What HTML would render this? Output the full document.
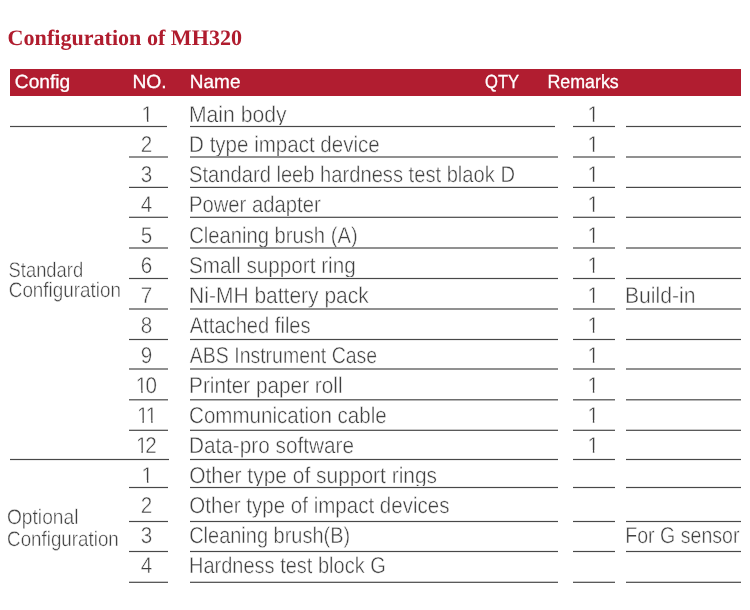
<!DOCTYPE html>
<html><head><meta charset="utf-8"><title>Configuration of MH320</title>
<style>
html,body{margin:0;padding:0;background:#fff;}
body{width:750px;height:610px;position:relative;overflow:hidden;font-family:"Liberation Sans",sans-serif;font-size:22.8px;}
.t{position:absolute;left:0;top:0;white-space:nowrap;line-height:normal;color:#404040;transform-origin:0 0;text-rendering:geometricPrecision;-webkit-text-stroke:0.45px #fff;}
.t.h{color:#fff;-webkit-text-stroke:0.3px #fff;}
i{position:absolute;display:block;height:1px;}
b{font-weight:normal;display:inline-block;clip-path:polygon(0 0,100% 0,100% 0.79em,0.33em 0.79em,0.33em 100%,0.2615em 100%,0.2615em 0.79em,0 0.79em);}
h1{position:absolute;margin:0;left:0;top:0;transform:translate(7.6px,24.9px);text-rendering:geometricPrecision;font-family:"Liberation Serif",serif;font-weight:bold;font-size:22.1px;line-height:normal;color:#b01c2e;white-space:nowrap;}
.bar{position:absolute;left:10px;top:69px;width:731px;height:27px;background:#b11d30;}
</style></head><body>
<h1>Configuration of MH320</h1>
<div class="bar"></div>
<div class="t" style="transform:translate(188.92px,101.31px) scaleX(0.9276)">Main body</div>
<div class="t" style="transform:translate(141.56px,101.31px) scaleX(0.9050)"><b>1</b></div>
<div class="t" style="transform:translate(587.46px,101.31px) scaleX(0.9050)"><b>1</b></div>
<div class="t" style="transform:translate(189.10px,131.37px) scaleX(0.9009)">D type impact device</div>
<div class="t" style="transform:translate(140.66px,131.37px) scaleX(0.9050)">2</div>
<div class="t" style="transform:translate(587.46px,131.37px) scaleX(0.9050)"><b>1</b></div>
<div class="t" style="transform:translate(189.09px,161.43px) scaleX(0.8836)">Standard leeb hardness test blaok D</div>
<div class="t" style="transform:translate(140.66px,161.43px) scaleX(0.9050)">3</div>
<div class="t" style="transform:translate(587.46px,161.43px) scaleX(0.9050)"><b>1</b></div>
<div class="t" style="transform:translate(188.92px,191.49px) scaleX(0.8884)">Power adapter</div>
<div class="t" style="transform:translate(140.66px,191.49px) scaleX(0.9050)">4</div>
<div class="t" style="transform:translate(587.46px,191.49px) scaleX(0.9050)"><b>1</b></div>
<div class="t" style="transform:translate(189.13px,221.55px) scaleX(0.8865)">Cleaning brush (A)</div>
<div class="t" style="transform:translate(140.66px,221.55px) scaleX(0.9050)">5</div>
<div class="t" style="transform:translate(587.46px,221.55px) scaleX(0.9050)"><b>1</b></div>
<div class="t" style="transform:translate(189.01px,251.61px) scaleX(0.9070)">Small support ring</div>
<div class="t" style="transform:translate(140.66px,251.61px) scaleX(0.9050)">6</div>
<div class="t" style="transform:translate(587.46px,251.61px) scaleX(0.9050)"><b>1</b></div>
<div class="t" style="transform:translate(189.06px,281.67px) scaleX(0.9213)">Ni-MH battery pack</div>
<div class="t" style="transform:translate(140.66px,281.67px) scaleX(0.9050)">7</div>
<div class="t" style="transform:translate(587.46px,281.67px) scaleX(0.9050)"><b>1</b></div>
<div class="t" style="transform:translate(624.95px,281.67px) scaleX(0.9276)">Build-in</div>
<div class="t" style="transform:translate(189.78px,311.73px) scaleX(0.8830)">Attached files</div>
<div class="t" style="transform:translate(140.66px,311.73px) scaleX(0.9050)">8</div>
<div class="t" style="transform:translate(587.46px,311.73px) scaleX(0.9050)"><b>1</b></div>
<div class="t" style="transform:translate(189.83px,341.79px) scaleX(0.8544)">ABS Instrument Case</div>
<div class="t" style="transform:translate(140.66px,341.79px) scaleX(0.9050)">9</div>
<div class="t" style="transform:translate(587.46px,341.79px) scaleX(0.9050)"><b>1</b></div>
<div class="t" style="transform:translate(189.04px,371.85px) scaleX(0.9108)">Printer paper roll</div>
<div class="t" style="transform:translate(135.85px,371.85px) scaleX(0.9050)"><b style="margin-right:-0.09em">1</b>0</div>
<div class="t" style="transform:translate(587.46px,371.85px) scaleX(0.9050)"><b>1</b></div>
<div class="t" style="transform:translate(189.05px,401.91px) scaleX(0.9017)">Communication cable</div>
<div class="t" style="transform:translate(137.08px,401.91px) scaleX(0.9050)"><b style="margin-right:-0.135em">1</b><b>1</b></div>
<div class="t" style="transform:translate(587.46px,401.91px) scaleX(0.9050)"><b>1</b></div>
<div class="t" style="transform:translate(189.04px,431.97px) scaleX(0.9103)">Data-pro software</div>
<div class="t" style="transform:translate(136.06px,431.97px) scaleX(0.9050)"><b style="margin-right:-0.11em">1</b>2</div>
<div class="t" style="transform:translate(587.46px,431.97px) scaleX(0.9050)"><b>1</b></div>
<div class="t" style="transform:translate(189.19px,462.03px) scaleX(0.9184)">Other type of support rings</div>
<div class="t" style="transform:translate(141.56px,462.03px) scaleX(0.9050)"><b>1</b></div>
<div class="t" style="transform:translate(189.28px,492.09px) scaleX(0.9007)">Other type of impact devices</div>
<div class="t" style="transform:translate(140.66px,492.09px) scaleX(0.9050)">2</div>
<div class="t" style="transform:translate(189.18px,522.15px) scaleX(0.8758)">Cleaning brush(B)</div>
<div class="t" style="transform:translate(140.66px,522.15px) scaleX(0.9050)">3</div>
<div class="t" style="transform:translate(625.28px,522.15px) scaleX(0.8583)">For G sensor</div>
<div class="t" style="transform:translate(189.02px,552.21px) scaleX(0.8773)">Hardness test block G</div>
<div class="t" style="transform:translate(140.66px,552.21px) scaleX(0.9050)">4</div>
<div class="t" style="font-size:21.1px;transform:translate(8.58px,259.31px) scaleX(0.8708)">Standard</div>
<div class="t" style="font-size:21.1px;transform:translate(8.77px,279.11px) scaleX(0.8938)">Configuration</div>
<div class="t" style="font-size:21.1px;transform:translate(6.95px,506.31px) scaleX(0.9093)">Optional</div>
<div class="t" style="font-size:21.1px;transform:translate(7.12px,528.31px) scaleX(0.8898)">Configuration</div>
<div class="t h" style="font-size:19.0px;transform:translate(14.86px,71.69px) scaleX(1.0084)">Config</div>
<div class="t h" style="font-size:19.0px;transform:translate(132.44px,71.69px) scaleX(1.0124)">NO.</div>
<div class="t h" style="font-size:19.0px;transform:translate(189.86px,71.69px) scaleX(0.9986)">Name</div>
<div class="t h" style="font-size:19.0px;transform:translate(485.08px,71.69px) scaleX(0.8728)">QTY</div>
<div class="t h" style="font-size:19.0px;transform:translate(547.51px,71.69px) scaleX(0.9373)">Remarks</div>
<i style="left:10px;width:157px;top:125px;background:#ededed"></i>
<i style="left:10px;width:157px;top:126px;background:#484848"></i>
<i style="left:10px;width:157px;top:127px;background:#ededed"></i>
<i style="left:190px;width:365px;top:125px;background:#ededed"></i>
<i style="left:190px;width:365px;top:126px;background:#484848"></i>
<i style="left:190px;width:365px;top:127px;background:#ededed"></i>
<i style="left:573px;width:42px;top:125px;background:#ededed"></i>
<i style="left:573px;width:42px;top:126px;background:#484848"></i>
<i style="left:573px;width:42px;top:127px;background:#ededed"></i>
<i style="left:626px;width:115px;top:125px;background:#ededed"></i>
<i style="left:626px;width:115px;top:126px;background:#484848"></i>
<i style="left:626px;width:115px;top:127px;background:#ededed"></i>
<i style="left:129px;width:39px;top:156px;background:#919191"></i>
<i style="left:129px;width:39px;top:157px;background:#919191"></i>
<i style="left:190px;width:368px;top:156px;background:#919191"></i>
<i style="left:190px;width:368px;top:157px;background:#919191"></i>
<i style="left:573px;width:42px;top:156px;background:#919191"></i>
<i style="left:573px;width:42px;top:157px;background:#919191"></i>
<i style="left:626px;width:115px;top:156px;background:#919191"></i>
<i style="left:626px;width:115px;top:157px;background:#919191"></i>
<i style="left:129px;width:39px;top:186px;background:#dadada"></i>
<i style="left:129px;width:39px;top:187px;background:#484848"></i>
<i style="left:190px;width:368px;top:186px;background:#dadada"></i>
<i style="left:190px;width:368px;top:187px;background:#484848"></i>
<i style="left:573px;width:42px;top:186px;background:#dadada"></i>
<i style="left:573px;width:42px;top:187px;background:#484848"></i>
<i style="left:626px;width:115px;top:186px;background:#dadada"></i>
<i style="left:626px;width:115px;top:187px;background:#484848"></i>
<i style="left:129px;width:39px;top:216px;background:#c8c8c8"></i>
<i style="left:129px;width:39px;top:217px;background:#5a5a5a"></i>
<i style="left:190px;width:368px;top:216px;background:#c8c8c8"></i>
<i style="left:190px;width:368px;top:217px;background:#5a5a5a"></i>
<i style="left:573px;width:42px;top:216px;background:#c8c8c8"></i>
<i style="left:573px;width:42px;top:217px;background:#5a5a5a"></i>
<i style="left:626px;width:115px;top:216px;background:#c8c8c8"></i>
<i style="left:626px;width:115px;top:217px;background:#5a5a5a"></i>
<i style="left:129px;width:39px;top:247px;background:#919191"></i>
<i style="left:129px;width:39px;top:248px;background:#919191"></i>
<i style="left:190px;width:368px;top:247px;background:#919191"></i>
<i style="left:190px;width:368px;top:248px;background:#919191"></i>
<i style="left:573px;width:42px;top:247px;background:#919191"></i>
<i style="left:573px;width:42px;top:248px;background:#919191"></i>
<i style="left:626px;width:115px;top:247px;background:#919191"></i>
<i style="left:626px;width:115px;top:248px;background:#919191"></i>
<i style="left:129px;width:39px;top:277px;background:#ededed"></i>
<i style="left:129px;width:39px;top:278px;background:#484848"></i>
<i style="left:129px;width:39px;top:279px;background:#ededed"></i>
<i style="left:190px;width:368px;top:277px;background:#ededed"></i>
<i style="left:190px;width:368px;top:278px;background:#484848"></i>
<i style="left:190px;width:368px;top:279px;background:#ededed"></i>
<i style="left:573px;width:42px;top:277px;background:#ededed"></i>
<i style="left:573px;width:42px;top:278px;background:#484848"></i>
<i style="left:573px;width:42px;top:279px;background:#ededed"></i>
<i style="left:626px;width:115px;top:277px;background:#ededed"></i>
<i style="left:626px;width:115px;top:278px;background:#484848"></i>
<i style="left:626px;width:115px;top:279px;background:#ededed"></i>
<i style="left:129px;width:39px;top:308px;background:#919191"></i>
<i style="left:129px;width:39px;top:309px;background:#919191"></i>
<i style="left:190px;width:368px;top:308px;background:#919191"></i>
<i style="left:190px;width:368px;top:309px;background:#919191"></i>
<i style="left:573px;width:42px;top:308px;background:#919191"></i>
<i style="left:573px;width:42px;top:309px;background:#919191"></i>
<i style="left:626px;width:115px;top:308px;background:#919191"></i>
<i style="left:626px;width:115px;top:309px;background:#919191"></i>
<i style="left:129px;width:39px;top:338px;background:#ededed"></i>
<i style="left:129px;width:39px;top:339px;background:#484848"></i>
<i style="left:129px;width:39px;top:340px;background:#ededed"></i>
<i style="left:190px;width:368px;top:338px;background:#ededed"></i>
<i style="left:190px;width:368px;top:339px;background:#484848"></i>
<i style="left:190px;width:368px;top:340px;background:#ededed"></i>
<i style="left:573px;width:42px;top:338px;background:#ededed"></i>
<i style="left:573px;width:42px;top:339px;background:#484848"></i>
<i style="left:573px;width:42px;top:340px;background:#ededed"></i>
<i style="left:626px;width:115px;top:338px;background:#ededed"></i>
<i style="left:626px;width:115px;top:339px;background:#484848"></i>
<i style="left:626px;width:115px;top:340px;background:#ededed"></i>
<i style="left:129px;width:39px;top:368px;background:#919191"></i>
<i style="left:129px;width:39px;top:369px;background:#919191"></i>
<i style="left:190px;width:368px;top:368px;background:#919191"></i>
<i style="left:190px;width:368px;top:369px;background:#919191"></i>
<i style="left:573px;width:42px;top:368px;background:#919191"></i>
<i style="left:573px;width:42px;top:369px;background:#919191"></i>
<i style="left:626px;width:115px;top:368px;background:#919191"></i>
<i style="left:626px;width:115px;top:369px;background:#919191"></i>
<i style="left:129px;width:39px;top:399px;background:#6d6d6d"></i>
<i style="left:129px;width:39px;top:400px;background:#b6b6b6"></i>
<i style="left:190px;width:368px;top:399px;background:#6d6d6d"></i>
<i style="left:190px;width:368px;top:400px;background:#b6b6b6"></i>
<i style="left:573px;width:42px;top:399px;background:#6d6d6d"></i>
<i style="left:573px;width:42px;top:400px;background:#b6b6b6"></i>
<i style="left:626px;width:115px;top:399px;background:#6d6d6d"></i>
<i style="left:626px;width:115px;top:400px;background:#b6b6b6"></i>
<i style="left:129px;width:39px;top:429px;background:#c8c8c8"></i>
<i style="left:129px;width:39px;top:430px;background:#5a5a5a"></i>
<i style="left:190px;width:368px;top:429px;background:#c8c8c8"></i>
<i style="left:190px;width:368px;top:430px;background:#5a5a5a"></i>
<i style="left:573px;width:42px;top:429px;background:#c8c8c8"></i>
<i style="left:573px;width:42px;top:430px;background:#5a5a5a"></i>
<i style="left:626px;width:115px;top:429px;background:#c8c8c8"></i>
<i style="left:626px;width:115px;top:430px;background:#5a5a5a"></i>
<i style="left:10px;width:159px;top:458px;background:#ededed"></i>
<i style="left:10px;width:159px;top:459px;background:#484848"></i>
<i style="left:10px;width:159px;top:460px;background:#ededed"></i>
<i style="left:190px;width:368px;top:458px;background:#ededed"></i>
<i style="left:190px;width:368px;top:459px;background:#484848"></i>
<i style="left:190px;width:368px;top:460px;background:#ededed"></i>
<i style="left:573px;width:42px;top:458px;background:#ededed"></i>
<i style="left:573px;width:42px;top:459px;background:#484848"></i>
<i style="left:573px;width:42px;top:460px;background:#ededed"></i>
<i style="left:626px;width:115px;top:458px;background:#ededed"></i>
<i style="left:626px;width:115px;top:459px;background:#484848"></i>
<i style="left:626px;width:115px;top:460px;background:#ededed"></i>
<i style="left:129px;width:39px;top:486px;background:#ededed"></i>
<i style="left:129px;width:39px;top:487px;background:#484848"></i>
<i style="left:129px;width:39px;top:488px;background:#ededed"></i>
<i style="left:190px;width:368px;top:486px;background:#ededed"></i>
<i style="left:190px;width:368px;top:487px;background:#484848"></i>
<i style="left:190px;width:368px;top:488px;background:#ededed"></i>
<i style="left:573px;width:42px;top:486px;background:#ededed"></i>
<i style="left:573px;width:42px;top:487px;background:#484848"></i>
<i style="left:573px;width:42px;top:488px;background:#ededed"></i>
<i style="left:626px;width:115px;top:486px;background:#ededed"></i>
<i style="left:626px;width:115px;top:487px;background:#484848"></i>
<i style="left:626px;width:115px;top:488px;background:#ededed"></i>
<i style="left:129px;width:39px;top:520px;background:#ededed"></i>
<i style="left:129px;width:39px;top:521px;background:#484848"></i>
<i style="left:129px;width:39px;top:522px;background:#ededed"></i>
<i style="left:190px;width:368px;top:520px;background:#ededed"></i>
<i style="left:190px;width:368px;top:521px;background:#484848"></i>
<i style="left:190px;width:368px;top:522px;background:#ededed"></i>
<i style="left:573px;width:42px;top:520px;background:#ededed"></i>
<i style="left:573px;width:42px;top:521px;background:#484848"></i>
<i style="left:573px;width:42px;top:522px;background:#ededed"></i>
<i style="left:626px;width:115px;top:520px;background:#ededed"></i>
<i style="left:626px;width:115px;top:521px;background:#484848"></i>
<i style="left:626px;width:115px;top:522px;background:#ededed"></i>
<i style="left:129px;width:39px;top:550px;background:#ededed"></i>
<i style="left:129px;width:39px;top:551px;background:#484848"></i>
<i style="left:129px;width:39px;top:552px;background:#ededed"></i>
<i style="left:190px;width:368px;top:550px;background:#ededed"></i>
<i style="left:190px;width:368px;top:551px;background:#484848"></i>
<i style="left:190px;width:368px;top:552px;background:#ededed"></i>
<i style="left:573px;width:42px;top:550px;background:#ededed"></i>
<i style="left:573px;width:42px;top:551px;background:#484848"></i>
<i style="left:573px;width:42px;top:552px;background:#ededed"></i>
<i style="left:626px;width:115px;top:550px;background:#ededed"></i>
<i style="left:626px;width:115px;top:551px;background:#484848"></i>
<i style="left:626px;width:115px;top:552px;background:#ededed"></i>
<i style="left:129px;width:39px;top:581px;background:#c8c8c8"></i>
<i style="left:129px;width:39px;top:582px;background:#5a5a5a"></i>
<i style="left:190px;width:368px;top:581px;background:#c8c8c8"></i>
<i style="left:190px;width:368px;top:582px;background:#5a5a5a"></i>
<i style="left:573px;width:42px;top:581px;background:#c8c8c8"></i>
<i style="left:573px;width:42px;top:582px;background:#5a5a5a"></i>
<i style="left:626px;width:115px;top:581px;background:#c8c8c8"></i>
<i style="left:626px;width:115px;top:582px;background:#5a5a5a"></i>
</body></html>
